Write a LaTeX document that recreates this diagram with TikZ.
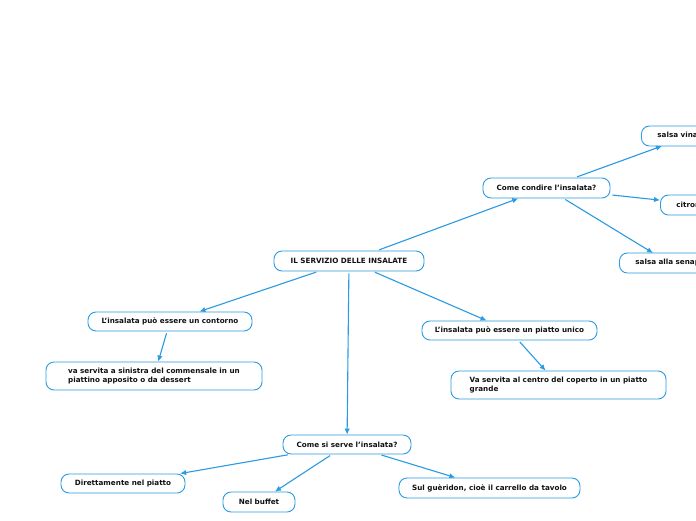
\documentclass[tikz,border=0pt]{standalone}
\usepackage{fontspec}
\setmainfont{DejaVu Sans}
\usetikzlibrary{arrows.meta}
\definecolor{mmblue}{HTML}{2A9BE2}
\definecolor{mmtext}{HTML}{111111}
\tikzset{
  topic/.style={draw=mmblue, line width=0.9pt, rounded corners=8pt, fill=white,
    inner sep=0pt, text=mmtext, font=\fontsize{7.2}{8.6}\selectfont\bfseries,
    minimum height=#1},
  topic/.default=20pt,
  link/.style={draw=mmblue, line width=1.1pt, -{Latex[length=6pt,width=5.5pt]}, shorten <=2pt}
}
\begin{document}
\begin{tikzpicture}[x=1pt,y=-1pt]
\path[use as bounding box, clip] (0,0) rectangle (696,520);
\fill[white] (0,0) rectangle (696,520);
% nodes
\node[topic, minimum width=150pt] (main) at (349,261) {IL SERVIZIO DELLE INSALATE};
\node[topic, minimum width=127pt] (cond) at (546.5,188) {Come condire l'insalata?};
\node[topic, minimum width=110pt, anchor=west, align=left, inner xsep=16pt, text width=78pt] (vin) at (641,136) {salsa vinaigrette};
\node[topic, minimum width=90pt, anchor=west, align=left, inner xsep=16pt, text width=58pt] (cit) at (660,205) {citronette};
\node[topic, minimum width=110pt, anchor=west, align=left, inner xsep=16pt, text width=78pt] (sen) at (619,263) {salsa alla senape};
\coordinate (vinend) at (662,146);
\coordinate (senend) at (653,253);
\node[topic=19pt, minimum width=164pt] (cont) at (170,321.5) {L'insalata può essere un contorno};
\node[topic=28pt, minimum width=216pt, align=left] (vas) at (154,376) {va servita a sinistra del commensale in un\\piattino apposito o da dessert};
\node[topic=19pt, minimum width=175pt] (unico) at (509.5,330.5) {L'insalata può essere un piatto unico};
\node[topic=28pt, minimum width=215pt, align=left] (vac) at (558.5,385) {Va servita al centro del coperto in un piatto\\grande};
\node[topic=19pt, minimum width=128pt] (serve) at (347,444.5) {Come si serve l'insalata?};
\node[topic=19pt, minimum width=124pt] (dir) at (123,483.5) {Direttamente nel piatto};
\node[topic, minimum width=72pt] (buf) at (259,502) {Nel buffet};
\node[topic, minimum width=181pt] (gue) at (489.5,488) {Sul guèridon, cioè il carrello da tavolo};
% connectors
\draw[link] (main) -- (cond);
\draw[link] (cond) -- (vinend);
\draw[link] (cond) -- (cit);
\draw[link] (cond) -- (senend);
\draw[link] (main) -- (cont);
\draw[link] (main) -- (serve);
\draw[link] (main) -- (unico);
\draw[link] (cont) -- (vas);
\draw[link] (unico) -- (vac);
\draw[link] (serve) -- (dir);
\draw[link] (serve) -- (buf);
\draw[link] (serve) -- (gue);
\end{tikzpicture}
\end{document}
